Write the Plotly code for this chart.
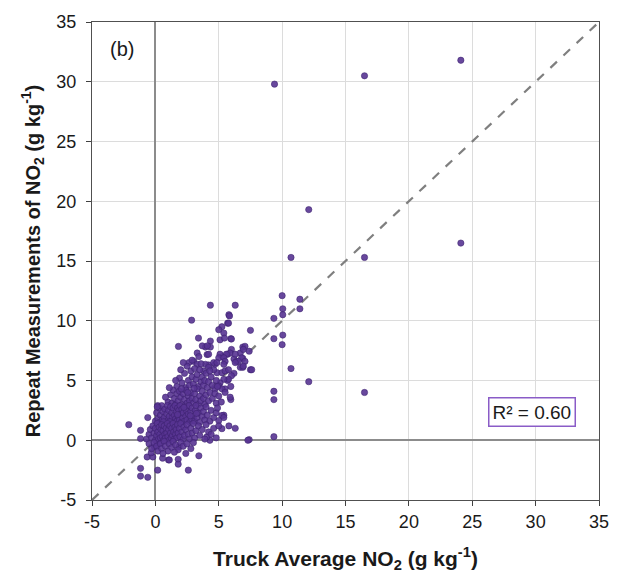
import plotly.graph_objects as go

# ---- data ----
sparse_pts = [
    (9.4, 29.8), (16.5, 30.5), (24.1, 31.8), (12.1, 19.3), (24.1, 16.5), (10.7, 15.3), (16.5, 15.3), (16.5, 4.0),
    (10.0, 12.1), (11.4, 11.8), (11.4, 11.0), (10.05, 11.0), (10.05, 10.5), (9.35, 10.2), (6.3, 11.3), (5.8, 10.5),
    (5.7, 9.8), (7.5, 9.2), (9.35, 8.5), (10.05, 8.8), (10.0, 8.0), (5.95, 8.5), (6.9, 7.8), (7.4, 7.45), (6.7, 7.3),
    (6.0, 7.6), (5.7, 7.2), (5.3, 7.0), (6.2, 6.8), (6.4, 6.6), (6.9, 6.85), (6.7, 6.1), (6.9, 6.1), (7.5, 5.9),
    (10.7, 6.0), (6.2, 5.6), (12.1, 4.9), (5.7, 5.0), (5.95, 4.5), (5.5, 4.3), (9.35, 4.1), (9.35, 3.4), (5.95, 3.4),
    (5.4, 2.1), (5.8, 1.2), (6.3, 1.0), (7.4, 0.05), (9.35, 0.3),
    (-2.1, 1.3), (-0.6, 1.9), (0.18, 2.9), (-1.17, 0.83), (-1.17, 0.14), (-0.65, -1.4), (-0.2, -1.4), (0.57, -1.5),
    (1.04, -1.65), (-0.33, -1.05), (1.8, -1.6), (1.8, -2.0), (-1.17, -2.35), (0.18, -2.5), (-1.17, -3.0), (-0.6, -3.1),
    (2.6, -2.5), (-0.08, -0.55), (0.3, -0.3),
    (5.25, 2.07), (5.4, 1.9), (5.0, 1.65), (5.25, 0.97), (7.3, 0.0), (1.87, -0.55), (3.43, -1.3), (1.1, -1.65),
    (4.3, 0.0), (4.05, 0.27), (4.2, 0.7),
    (4.34, 11.3), (2.86, 10.05), (3.4, 8.55), (4.34, 8.3), (3.95, 7.8), (4.34, 7.8), (1.82, 7.85), (3.3, 7.3),
    (3.43, 7.0), (4.08, 7.17), (2.65, 6.5), (3.04, 6.6), (3.3, 6.35), (4.2, 6.3), (4.7, 6.35),
    (5.85, 10.4), (5.77, 9.8), (5.25, 9.5), (5.0, 9.25), (5.4, 8.97), (5.1, 8.4), (5.45, 8.55), (6.0, 8.47),
    (3.7, 7.9), (4.1, 7.9), (4.2, 7.2), (5.9, 7.3), (5.6, 7.2), (6.3, 7.2), (5.1, 7.2), (5.0, 6.9), (5.4, 6.9),
    (7.07, 7.86), (6.94, 7.6), (6.8, 6.9), (7.07, 6.6), (6.55, 6.6), (6.3, 6.5), (7.6, 5.9), (6.94, 6.2), (4.6, 6.5),
    (4.86, 6.5), (5.5, 6.6), (5.4, 6.35), (3.95, 6.35), (4.2, 6.1), (3.8, 5.8), (4.86, 5.65), (5.25, 5.65), (5.5, 5.8),
    (5.77, 5.9), (6.0, 5.4), (5.77, 5.1), (5.4, 5.1), (5.1, 4.8), (5.0, 4.55), (4.7, 4.3), (5.25, 4.3), (5.5, 4.0),
    (5.9, 3.6),
]
core_pts = [
    (1.7, 4.5), (1.9, 5.2), (2.1, 4.8), (2.3, 5.6), (2.4, 4.4), (2.5, 6.2), (2.6, 5.0), (2.7, 4.6), (2.8, 5.8),
    (2.9, 5.3), (3.0, 4.7), (3.1, 6.0), (3.2, 5.1), (3.3, 5.5), (3.4, 4.5), (3.5, 5.9), (3.6, 4.9), (3.7, 5.3),
    (3.8, 4.6), (3.9, 5.0), (4.0, 5.6), (4.1, 4.4), (4.2, 4.9), (4.4, 5.3), (4.5, 4.6), (4.6, 5.9), (4.8, 5.0),
    (4.9, 4.5), (2.2, 6.5), (2.0, 5.9), (1.6, 5.0), (3.6, 6.4), (2.9, 6.7), (4.3, 5.8),
    (1.0, 3.2), (1.2, 3.8), (1.3, 3.1), (1.4, 4.2), (1.5, 3.5), (1.6, 3.0), (1.7, 3.9), (1.8, 3.3), (1.9, 4.1),
    (2.0, 3.6), (2.1, 3.0), (2.2, 3.9), (2.3, 3.4), (2.4, 4.2), (2.5, 3.1), (2.6, 3.7), (2.7, 3.3), (2.8, 4.0),
    (2.9, 3.5), (3.0, 3.1), (3.1, 3.9), (3.2, 3.4), (3.3, 4.3), (3.4, 3.0), (3.5, 3.7), (3.6, 3.3), (3.7, 4.1),
    (3.8, 3.5), (3.9, 3.0), (4.0, 3.8), (4.2, 3.3), (4.3, 4.0), (4.5, 3.5), (4.7, 3.9), (4.8, 3.1), (5.0, 3.7),
    (5.2, 3.2), (0.8, 3.6), (1.1, 4.4), (2.05, 4.3), (2.55, 4.0), (3.05, 4.35),
    (0.0, 1.6), (0.1, 2.3), (0.2, 1.8), (0.3, 2.7), (0.35, 1.5), (0.4, 2.1), (0.5, 2.9), (0.55, 1.7), (0.6, 2.4),
    (0.7, 1.9), (0.75, 2.6), (0.8, 1.5), (0.9, 2.2), (0.95, 2.9), (1.0, 1.7), (1.05, 2.5), (1.1, 2.0), (1.2, 2.8),
    (1.25, 1.6), (1.3, 2.3), (1.35, 1.9), (1.4, 2.7), (1.45, 1.5), (1.5, 2.1), (1.55, 2.9), (1.6, 1.8), (1.65, 2.4),
    (1.7, 1.6), (1.75, 2.7), (1.8, 2.0), (1.85, 2.5), (1.9, 1.7), (1.95, 2.9), (2.0, 2.2), (2.05, 1.5), (2.1, 2.6),
    (2.15, 1.9), (2.2, 2.3), (2.3, 1.6), (2.35, 2.8), (2.4, 2.0), (2.45, 2.5), (2.5, 1.7), (2.6, 2.2), (2.65, 2.9),
    (2.7, 1.5), (2.8, 2.4), (2.85, 1.8), (2.9, 2.7), (3.0, 2.0), (3.1, 1.6), (3.15, 2.5), (3.2, 2.9), (3.3, 1.9),
    (3.4, 2.3), (3.5, 1.5), (3.6, 2.7), (3.7, 2.0), (3.8, 2.4), (3.9, 1.7), (4.0, 2.8), (4.1, 2.1), (4.3, 1.6),
    (4.4, 2.5), (4.6, 1.9), (4.8, 2.3), (4.9, 2.7), (0.15, 2.8), (0.65, 1.55), (1.15, 1.55), (1.75, 2.15),
    (2.25, 2.75), (2.75, 2.05), (3.25, 2.25),
    (-0.7, 0.1), (-0.5, 0.5), (-0.4, 0.9), (-0.3, 0.2), (-0.2, 1.2), (-0.1, 0.6), (0.0, 0.0), (0.0, 1.0), (0.1, 0.4),
    (0.15, 1.4), (0.2, 0.7), (0.25, 0.1), (0.3, 1.1), (0.35, 0.5), (0.4, 0.2), (0.45, 0.9), (0.5, 1.3), (0.55, 0.3),
    (0.6, 0.8), (0.65, 0.0), (0.7, 1.2), (0.75, 0.5), (0.8, 0.2), (0.85, 1.0), (0.9, 0.6), (0.95, 1.4), (1.0, 0.3),
    (1.05, 0.9), (1.1, 0.0), (1.15, 1.2), (1.2, 0.6), (1.25, 0.2), (1.3, 1.0), (1.35, 0.4), (1.4, 1.4), (1.45, 0.7),
    (1.5, 0.1), (1.55, 1.1), (1.6, 0.5), (1.65, 0.9), (1.7, 0.2), (1.75, 1.3), (1.8, 0.6), (1.9, 1.0), (1.95, 0.3),
    (2.0, 1.4), (2.1, 0.7), (2.2, 0.1), (2.25, 1.1), (2.3, 0.4), (2.4, 0.9), (2.5, 1.3), (2.6, 0.5), (2.7, 0.1),
    (2.8, 1.0), (2.9, 0.6), (3.0, 1.4), (3.1, 0.2), (3.2, 0.8), (3.4, 1.2), (3.5, 0.4), (3.7, 0.9), (3.9, 0.1),
    (4.0, 1.3), (4.4, 0.5), (4.6, 1.0), (4.8, 0.2), (5.0, 1.2),
    (-0.5, -0.3), (-0.3, -0.7), (-0.1, -0.2), (0.1, -0.5), (0.2, -0.9), (0.4, -0.3), (0.5, -0.7), (0.7, -0.1),
    (0.8, -0.5), (1.0, -0.9), (1.1, -0.3), (1.3, -0.6), (1.4, -0.1), (1.6, -0.4), (1.8, -0.8), (2.0, -0.2),
    (2.2, -0.5), (2.5, -0.3), (2.8, -0.7), (3.0, -0.2), (0.6, -1.1), (1.5, -1.0), (2.4, -1.1),
]
truck_avg_no2 = [p[0] for p in sparse_pts + core_pts]
repeat_no2 = [p[1] for p in sparse_pts + core_pts]

axis_range = [-5, 35]
tick_vals = [-5, 0, 5, 10, 15, 20, 25, 30, 35]
tick_text = ["-5", "0", "5", "10", "15", "20", "25", "30", "35"]
r2_text = "R² = 0.60"
panel_label = "(b)"

FONT = "Liberation Sans, Arial, sans-serif"

fig = go.Figure()
# 1:1 line
fig.add_trace(go.Scatter(
    x=axis_range, y=axis_range, mode="lines",
    line=dict(color="#7F7F7F", width=2.2, dash="dash"),
    hoverinfo="skip", showlegend=False,
))
fig.add_trace(go.Scatter(
    x=truck_avg_no2, y=repeat_no2, mode="markers",
    marker=dict(size=6.3, color="rgba(88,52,146,0.9)",
                line=dict(color="rgba(58,32,108,0.9)", width=0.6)),
    showlegend=False,
))

axis_common = dict(
    range=axis_range, tickvals=tick_vals, ticktext=tick_text, ticks="outside", ticklen=5, tickcolor="#404040",
    showgrid=True, gridcolor="#DCDCDC", gridwidth=1,
    zeroline=True, zerolinecolor="#8C8C8C", zerolinewidth=1.5,
    showline=True, linecolor="#505050", linewidth=1.3, mirror=True,
    tickfont=dict(family=FONT, size=18, color="#1a1a1a"),
    fixedrange=True,
)
fig.update_xaxes(**axis_common,
                 title=dict(text="<b>Truck Average NO<sub>2</sub> (g kg<sup>-1</sup>)</b>",
                            font=dict(family=FONT, size=21, color="#1a1a1a"),
                            standoff=20))
fig.update_yaxes(**axis_common, ticklabelstandoff=6,
                 title=dict(text="<b>Repeat Measurements of NO<sub>2</sub> (g kg<sup>-1</sup>)</b>",
                            font=dict(family=FONT, size=20, color="#1a1a1a"),
                            standoff=10))

fig.add_annotation(x=-2.6, y=32.7, text=panel_label, showarrow=False,
                   font=dict(family=FONT, size=20, color="#1a1a1a"))
fig.add_annotation(x=29.7, y=2.4, text=r2_text, showarrow=False,
                   font=dict(family=FONT, size=19, color="#1a1a1a"),
                   bordercolor="#8A5CC7", borderwidth=1.5, borderpad=3, bgcolor="white")

fig.update_layout(
    width=621, height=581,
    margin=dict(l=92, r=16, t=17, b=81),
    plot_bgcolor="white", paper_bgcolor="white",
)
fig.write_html("out.html")
